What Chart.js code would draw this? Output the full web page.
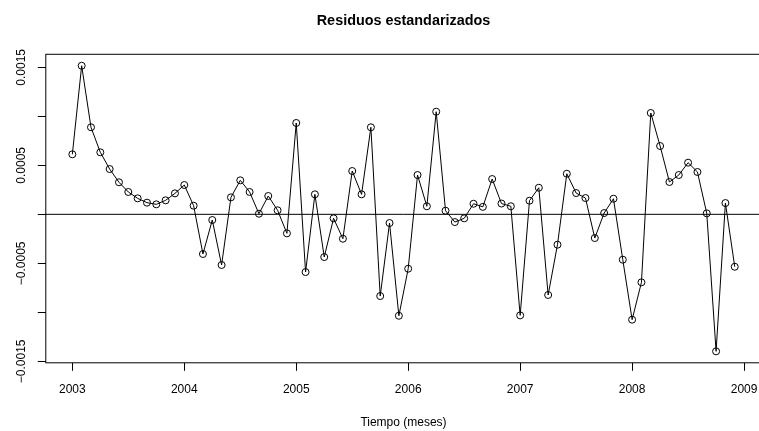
<!DOCTYPE html>
<html>
<head>
<meta charset="utf-8">
<script src="https://cdn.jsdelivr.net/npm/chart.js@4.4.1/dist/chart.umd.min.js"></script>
<style>
  html, body { margin: 0; padding: 0; background: #fff; overflow: hidden; }
  #wrap { width: 807px; height: 431px; }
</style>
</head>
<body>
<div id="wrap"><canvas id="residChart" width="807" height="431"></canvas></div>
<script>
// serie mensual de residuos estandarizados, enero 2003 - diciembre 2008
const startYear = 2003;
const freq = 12;
const residuos = [
  6.12e-4, 15.16e-4, 8.88e-4, 6.33e-4, 4.62e-4, 3.27e-4, 2.28e-4, 1.63e-4, 1.19e-4, 1.02e-4, 1.43e-4, 2.14e-4,
  2.99e-4, 0.88e-4, -4.05e-4, -0.58e-4, -5.17e-4, 1.73e-4, 3.47e-4, 2.28e-4, 0.06e-4, 1.87e-4, 0.41e-4, -1.94e-4,
  9.32e-4, -5.89e-4, 2.04e-4, -4.36e-4, -0.41e-4, -2.49e-4, 4.42e-4, 2.04e-4, 8.88e-4, -8.34e-4, -0.89e-4, -10.35e-4,
  -5.55e-4, 4.01e-4, 0.82e-4, 10.47e-4, 0.37e-4, -0.79e-4, -0.41e-4, 1.08e-4, 0.76e-4, 3.6e-4, 1.1e-4, 0.82e-4,
  -10.31e-4, 1.39e-4, 2.71e-4, -8.23e-4, -3.1e-4, 4.14e-4, 2.17e-4, 1.66e-4, -2.42e-4, 0.13e-4, 1.59e-4, -4.63e-4,
  -10.75e-4, -6.94e-4, 10.34e-4, 6.97e-4, 3.3e-4, 4.01e-4, 5.27e-4, 4.32e-4, 0.1e-4, -13.98e-4, 1.15e-4, -5.35e-4
];

const xTicks = [2003, 2004, 2005, 2006, 2007, 2008, 2009];
const xTickLabels = ['2003', '2004', '2005', '2006', '2007', '2008', '2009'];
const yTicks = [-0.0015, -0.001, -0.0005, 0, 0.0005, 0.001, 0.0015];
const yTickLabels = ['\u22120.0015', '', '\u22120.0005', '', '0.0005', '', '0.0015'];
const refLine = 0;

const FONT = "'Liberation Sans', Arial, Helvetica, sans-serif";

// linea horizontal de referencia y marco del grafico
const framePlugin = {
  id: 'frame',
  afterDatasetsDraw(chart) {
    const { ctx, chartArea: a, scales } = chart;
    const y0 = scales.y.getPixelForValue(refLine);
    ctx.save();
    ctx.strokeStyle = '#000';
    ctx.lineWidth = 1;
    ctx.beginPath();
    ctx.moveTo(a.left, y0);
    ctx.lineTo(a.right, y0);
    ctx.stroke();
    ctx.strokeRect(a.left, a.top, a.right - a.left, a.bottom - a.top);
    ctx.restore();
  }
};

Chart.defaults.color = '#000';
Chart.defaults.font.family = FONT;

new Chart(document.getElementById('residChart'), {
  type: 'line',
  data: {
    datasets: [{
      data: residuos.map((v, i) => ({ x: startYear + i / freq, y: v })),
      borderColor: '#000',
      borderWidth: 1,
      tension: 0,
      pointRadius: 3.5,
      pointBorderWidth: 1,
      pointBorderColor: '#000',
      pointBackgroundColor: 'rgba(0,0,0,0)'
    }]
  },
  options: {
    responsive: false,
    animation: false,
    events: [],
    layout: { padding: 0 },
    plugins: {
      legend: { display: false },
      tooltip: { enabled: false },
      title: {
        display: true,
        text: 'Residuos estandarizados',
        color: '#000',
        font: { family: FONT, size: 14.4, weight: 'bold', lineHeight: 1.2 },
        padding: { top: 12, bottom: 25 }
      }
    },
    scales: {
      x: {
        type: 'linear',
        min: 2002.763,
        max: 2009.153,
        afterBuildTicks: s => { s.ticks = xTicks.map(v => ({ value: v })); },
        afterFit: s => { s.height = 68.2; },
        border: { display: false },
        grid: { drawOnChartArea: false, drawTicks: true, tickLength: 8, color: '#000', lineWidth: 1 },
        ticks: {
          autoSkip: false,
          maxRotation: 0,
          padding: 11.5,
          font: { size: 12 },
          callback: (v, i) => xTickLabels[i]
        },
        title: {
          display: true,
          text: 'Tiempo (meses)',
          font: { size: 12 },
          padding: { top: 0, bottom: 1.5 }
        }
      },
      y: {
        min: -0.001515,
        max: 0.001633,
        afterBuildTicks: s => { s.ticks = yTicks.map(v => ({ value: v })); },
        afterFit: s => { s.width = 45.8; },
        border: { display: false },
        grid: { drawOnChartArea: false, drawTicks: true, tickLength: 8, color: '#000', lineWidth: 1 },
        ticks: {
          autoSkip: false,
          minRotation: 90,
          maxRotation: 90,
          crossAlign: 'center',
          padding: -6,
          font: { size: 12 },
          callback: (v, i) => yTickLabels[i]
        }
      },
      // margen derecho vacio, del mismo ancho que el izquierdo
      yMargin: {
        position: 'right',
        afterFit: s => { s.width = 45.8; },
        border: { display: false },
        grid: { display: false },
        ticks: { display: false }
      }
    }
  },
  plugins: [framePlugin]
});
</script>
</body>
</html>
